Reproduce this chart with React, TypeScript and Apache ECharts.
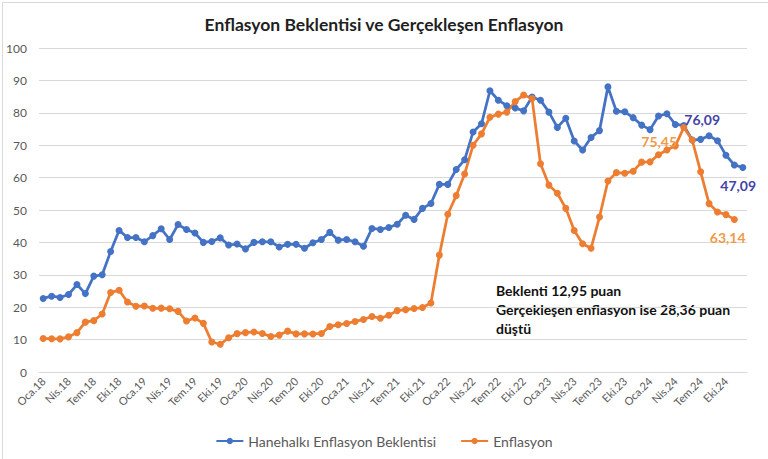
import React, { useEffect, useRef } from "react";
import * as echarts from "echarts";

const months = ["Oca", "Şub", "Mar", "Nis", "May", "Haz", "Tem", "Ağu", "Eyl", "Eki", "Kas", "Ara"];
const years = ["18", "19", "20", "21", "22", "23", "24"];
const categories = years.flatMap((y) => months.map((m) => `${m}.${y}`));

const seriesNames = ["Hanehalkı Enflasyon Beklentisi", "Enflasyon"];

// Hanehalkı enflasyon beklentisi (Oca.18 – Ara.24)
const expectation = [
  22.7, 23.4, 23.0, 23.9, 27.0, 24.2, 29.6, 30.0, 37.2, 43.7, 41.5, 41.5,
  40.2, 42.1, 44.2, 40.9, 45.5, 44.0, 42.9, 40.0, 40.3, 41.4, 39.2, 39.5,
  38.0, 40.0, 40.2, 40.2, 38.6, 39.4, 39.4, 38.2, 39.9, 40.9, 43.1, 40.7,
  40.9, 40.2, 38.8, 44.3, 44.0, 44.6, 45.6, 48.4, 47.1, 50.5, 52.0, 57.9,
  57.9, 62.5, 65.5, 74.1, 76.6, 86.8, 83.9, 82.2, 81.5, 80.6, 84.9, 83.9,
  80.2, 75.5, 78.3, 71.3, 68.5, 72.4, 74.5, 88.0, 80.5, 80.3, 78.5, 76.2,
  74.8, 79.0, 79.7, 76.4, 76.09, 71.6, 71.8, 72.9, 71.4, 66.9, 63.9, 63.14,
];

// Gerçekleşen enflasyon (Oca.18 – Kas.24)
const inflation = [
  10.35, 10.26, 10.23, 10.85, 12.15, 15.39, 15.85, 17.9, 24.52, 25.24, 21.62, 20.3,
  20.35, 19.67, 19.71, 19.5, 18.71, 15.72, 16.65, 15.01, 9.26, 8.55, 10.56, 11.84,
  12.15, 12.37, 11.86, 10.94, 11.39, 12.62, 11.76, 11.77, 11.75, 11.89, 14.03, 14.6,
  14.97, 15.61, 16.19, 17.14, 16.59, 17.53, 18.95, 19.25, 19.58, 19.89, 21.31, 36.08,
  48.69, 54.44, 61.14, 69.97, 73.5, 78.62, 79.6, 80.21, 83.45, 85.51, 84.39, 64.27,
  57.68, 55.18, 50.51, 43.68, 39.59, 38.21, 47.83, 58.94, 61.53, 61.36, 61.98, 64.77,
  64.86, 67.07, 68.5, 69.8, 75.45, 71.6, 61.78, 51.97, 49.38, 48.58, 47.09,
];

// Point labels: [index, text]
const blueLabels: [number, string][] = [
  [76, "76,09"],
  [83, "47,09"],
];
const orangeLabels: [number, string][] = [
  [76, "75,45"],
  [82, "63,14"],
];

const noteLines = ["Beklenti 12,95 puan", "Gerçekleşen enflasyon ise 28,36 puan", "düştü"];

const BLUE = "#4472C4";
const ORANGE = "#ED7D31";
const FONT = "Lato, 'Open Sans', sans-serif";

export default function App() {
  const ref = useRef<HTMLDivElement>(null);
  useEffect(() => {
    if (!ref.current) return;
    const chart = echarts.init(ref.current, undefined, { renderer: "svg" });

    const blueStyles: Record<number, any> = {
      76: { position: [4, -9] },
      83: { position: [-19, 15] },
    };
    const orangeStyles: Record<number, any> = {
      76: { position: [-39, 10] },
      82: { position: [-21, 15] },
    };

    const blueData = expectation.map((v, i) => {
      const l = blueLabels.find((b) => b[0] === i);
      if (!l) return v;
      return {
        value: v,
        label: {
          show: true,
          formatter: l[1],
          color: "#4343A8",
          fontWeight: "bold",
          fontSize: 14,
          fontFamily: FONT,
          ...blueStyles[i],
        },
      };
    });
    const orangeData = inflation.map((v, i) => {
      const l = orangeLabels.find((b) => b[0] === i);
      if (!l) return v;
      return {
        value: v,
        label: {
          show: true,
          formatter: l[1],
          color: "#F09A48",
          fontWeight: "bold",
          fontSize: 14,
          fontFamily: FONT,
          ...orangeStyles[i],
        },
      };
    });

    chart.setOption({
      animation: false,
      backgroundColor: "#ffffff",
      textStyle: { fontFamily: FONT },
      title: {
        text: "Enflasyon Beklentisi ve Gerçekleşen Enflasyon",
        left: "center",
        top: 10,
        textStyle: { fontSize: 17.5, fontWeight: "bold", color: "#1f1f1f", fontFamily: FONT },
      },
      legend: {
        data: seriesNames,
        top: 429,
        left: "center",
        itemWidth: 27,
        itemHeight: 8,
        itemGap: 24,
        textStyle: { fontSize: 14, color: "#595959", fontFamily: FONT },
      },
      grid: { left: 39, right: 21, top: 48, bottom: 87, containLabel: false },
      xAxis: {
        type: "category",
        data: categories,
        boundaryGap: true,
        axisLine: { lineStyle: { color: "#d9d9d9" } },
        axisTick: { interval: 2, length: 5, lineStyle: { color: "#d9d9d9" } },
        axisLabel: { interval: 2, rotate: 45, fontSize: 11, color: "#595959", margin: 7, fontFamily: FONT },
        splitLine: { show: false },
      },
      yAxis: {
        type: "value",
        min: 0,
        max: 100,
        interval: 10,
        axisLine: { show: false },
        axisTick: { show: false },
        axisLabel: { fontSize: 12, color: "#595959", margin: 12, fontFamily: FONT },
        splitLine: { lineStyle: { color: "#d9d9d9", width: 1 } },
      },
      series: [
        {
          name: seriesNames[0],
          type: "line",
          data: blueData,
          symbol: "circle",
          symbolSize: 7,
          showSymbol: true,
          showAllSymbol: true,
          color: BLUE,
          lineStyle: { width: 2.75, color: BLUE },
          itemStyle: { color: BLUE },
          labelLayout: { hideOverlap: false },
        },
        {
          name: seriesNames[1],
          type: "line",
          data: orangeData,
          symbol: "circle",
          symbolSize: 7,
          showSymbol: true,
          showAllSymbol: true,
          color: ORANGE,
          lineStyle: { width: 2.75, color: ORANGE },
          itemStyle: { color: ORANGE },
          labelLayout: { hideOverlap: false },
        },
      ],
      graphic: [
        {
          type: "rect",
          left: 0,
          top: 0,
          shape: { x: 0.5, y: 0.5, width: 767, height: 458 },
          style: { fill: "none", stroke: "#d9d9d9", lineWidth: 1 },
          silent: true,
        },
        {
          type: "text",
          left: 496,
          top: 281,
          style: {
            text: noteLines.join("\n"),
            font: `bold 14px ${FONT}`,
            fill: "#111111",
            lineHeight: 19,
          },
        },
      ],
    });
    return () => chart.dispose();
  }, []);

  return (
    <div
      ref={ref}
      style={{ position: "fixed", left: 0, top: 0, width: 768, height: 459, background: "#fff" }}
    />
  );
}
